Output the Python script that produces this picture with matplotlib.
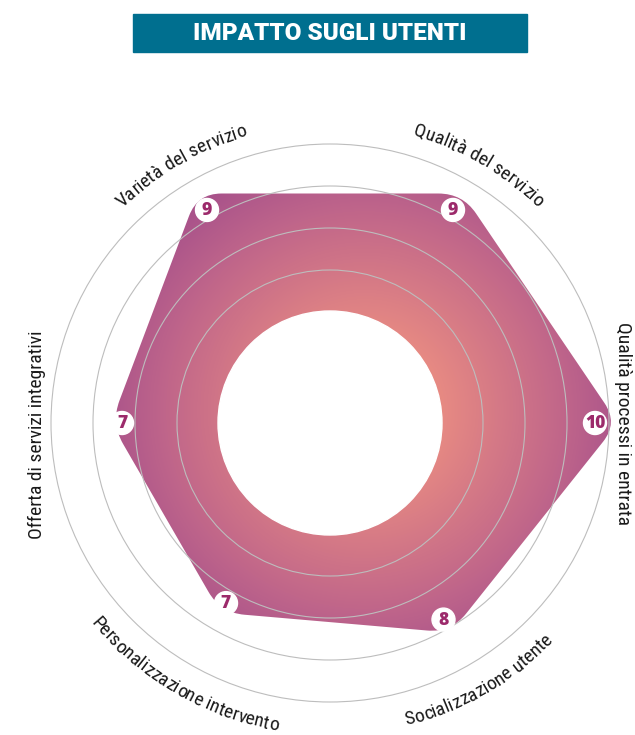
import numpy as np
import matplotlib
matplotlib.use('Agg')
import matplotlib.pyplot as plt
from matplotlib.patches import Circle, Rectangle, PathPatch
from matplotlib.path import Path
from matplotlib.colors import LinearSegmentedColormap
from matplotlib.font_manager import FontProperties, findfont, get_font

# dati del grafico
categorie = ['Qualità processi in entrata', 'Qualità del servizio', 'Varietà del servizio',
             'Offerta di servizi integrativi', 'Personalizzazione intervento', 'Socializzazione utente']
valori = [10, 9, 9, 7, 7, 8]
titolo = 'IMPATTO SUGLI UTENTI'

W, H = 635, 735
DPI = 100
cx, cy = 330, 423          # centro del radar (pixel)
r_foro = 112               # buco bianco centrale
r_griglia = [153, 195, 237, 279]


def r_vertice(v):
    return 58 + 23 * v


def r_etichetta(v):
    return 75 + 19 * v


def xy(r, ang):
    a = np.deg2rad(ang)
    return cx + r * np.cos(a), cy - r * np.sin(a)


fig = plt.figure(figsize=(W / DPI, H / DPI), dpi=DPI)
ax = fig.add_axes([0, 0, 1, 1])
ax.set_xlim(0, W)
ax.set_ylim(H, 0)
ax.axis('off')

# titolo
ax.add_patch(Rectangle((133, 14), 394, 38, color='#006f8f', zorder=1))
ax.text(330, 33.5, titolo, color='white', fontsize=17.5, fontweight='black',
        family=['Roboto', 'DejaVu Sans'], ha='center', va='center', zorder=2)

# poligono con angoli arrotondati
angoli = np.arange(len(valori)) * 360 / len(valori)
pts = np.array([xy(r_vertice(v), a) for v, a in zip(valori, angoli)])
n = len(pts)
d = 24
verts, codes = [], []
for i in range(n):
    p = pts[i]
    prev_p = pts[i - 1]
    next_p = pts[(i + 1) % n]
    u1 = (prev_p - p) / np.linalg.norm(prev_p - p)
    u2 = (next_p - p) / np.linalg.norm(next_p - p)
    verts.append(p + d * u1)
    codes.append(Path.MOVETO if i == 0 else Path.LINETO)
    verts += [p, p + d * u2]
    codes += [Path.CURVE3, Path.CURVE3]
verts.append(verts[0])
codes.append(Path.CLOSEPOLY)
poly = PathPatch(Path(verts, codes), facecolor='none', edgecolor='none', zorder=2)
ax.add_patch(poly)

# sfumatura radiale
cmap = LinearSegmentedColormap.from_list('rosa', [(0, '#ee9081'), (0.3, '#e68983'),
                                                  (0.75, '#c0668a'), (1, '#a8528a')])
X, Y = np.meshgrid(np.arange(W) + 0.5, np.arange(H) + 0.5)
dist = np.hypot(X - 365, Y - 410) / 265
img = ax.imshow(np.clip(dist, 0, 1), cmap=cmap, vmin=0, vmax=1, extent=(0, W, H, 0),
                origin='upper', zorder=2, interpolation='bilinear')
img.set_clip_path(poly)

# foro centrale e cerchi di griglia
ax.add_patch(Circle((cx, cy), r_foro, color='white', zorder=3))
for r in r_griglia:
    ax.add_patch(Circle((cx, cy), r, facecolor='none', edgecolor='#bdbdbd', lw=0.8, zorder=4))

# etichette valori
for v, a in zip(valori, angoli):
    x, y = xy(r_etichetta(v), a)
    ax.add_patch(Circle((x, y), 11.5, color='white', zorder=5))
    ax.text(x, y + 0.5, str(v), color='#9c2a6b', fontsize=12.5, fontweight='heavy',
            family=['Open Sans', 'DejaVu Sans'], ha='center', va='center', zorder=6)

# etichette categorie
fp = FontProperties(family=['Roboto Condensed', 'DejaVu Sans'], size=14)
font = get_font(findfont(fp))
font.set_size(fp.get_size_in_points(), 72)
k = DPI / 72


def testo_arco(s, ang, r, sotto):
    adv, centro_ink = [], []
    for c in s:
        g = font.load_char(ord(c))
        a_px = g.linearHoriAdvance / 65536 * k
        adv.append(a_px)
        # centro dell'inchiostro dentro la cella del carattere
        centro_ink.append((g.horiBearingX / 64 + g.width / 128) * k if c != ' ' else a_px / 2)
    adv = np.array(adv)
    tot = adv.sum()
    centri = np.cumsum(adv) - adv + np.array(centro_ink) - tot / 2
    for c, off in zip(s, centri):
        if c == ' ':
            continue
        if sotto:
            phi = ang + np.rad2deg(off / r)
            rot = phi + 90
        else:
            phi = ang - np.rad2deg(off / r)
            rot = phi - 90
        x, y = xy(r, phi)
        ax.text(x, y, c, fontproperties=fp, color='#1a1a1a', rotation=rot,
                rotation_mode='anchor', ha='center', va='baseline', zorder=6)


for s, a in zip(categorie, angoli):
    if 180 < a < 360:
        testo_arco(s, a, 312, True)
    elif a in (0, 180):
        # ai lati il testo e' dritto
        x, y = xy(288, a)
        if a == 180:
            y += 12
        ax.text(x, y, s, fontproperties=fp, color='#1a1a1a', rotation=a - 90,
                rotation_mode='anchor', ha='center', va='baseline', zorder=6)
    else:
        testo_arco(s, a, 299, False)

fig.savefig('out.png', dpi=DPI)
